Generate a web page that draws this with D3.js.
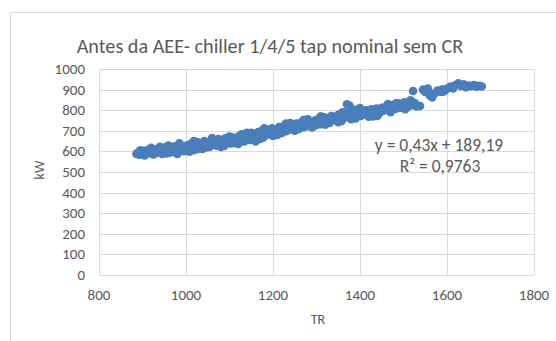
<!DOCTYPE html>
<html>
<head>
<meta charset="utf-8">
<script src="https://cdn.jsdelivr.net/npm/d3@7"></script>
<style>
  body { margin: 0; background: #fff; }
  text { font-family: Carlito, Calibri, "Open Sans", sans-serif; }
</style>
</head>
<body>
<div id="chart"></div>
<script>
// scatter points, in chunks along TR
const trA = [886, 890, 893, 897, 900, 904, 907, 911, 914, 918, 921, 925, 928, 932, 935, 939, 942, 946, 949, 953, 956, 960, 963, 967, 970, 974, 977, 981, 984, 988, 991, 995, 998,
    895, 905, 915, 925, 935, 945, 955, 965, 975, 985, 995, 920, 940, 960, 980];
const kwA = [588, 594, 584, 598, 590, 603, 586, 596, 608, 591, 600, 612, 589, 603, 595, 616, 598, 592, 606, 621, 600, 612, 594, 618, 605, 625, 599, 614, 630, 608, 620, 601, 626,
    605, 580, 602, 585, 608, 587, 590, 609, 596, 639, 612, 618, 622, 628, 588];

const trB = [1002, 1006, 1010, 1014, 1018, 1022, 1026, 1030, 1034, 1038, 1042, 1046, 1050, 1054, 1058, 1062, 1066, 1070, 1074, 1078, 1082, 1086, 1090, 1094, 1098, 1102, 1106, 1110, 1114, 1118, 1122, 1126, 1130, 1134, 1138, 1142, 1146, 1150,
    1008, 1028, 1048, 1068, 1088, 1108, 1128, 1148, 1018, 1040, 1060, 1080, 1100, 1120, 1140];
const kwB = [610, 632, 618, 640, 606, 627, 645, 620, 636, 612, 650, 630, 641, 622, 655, 634, 646, 628, 660, 640, 652, 633, 664, 645, 656, 638, 669, 650, 661, 642, 675, 654, 666, 648, 680, 660, 671, 690,
    598, 612, 620, 650, 627, 640, 683, 655, 650, 615, 665, 622, 672, 636, 690];

const trC = [1154, 1158, 1162, 1166, 1170, 1174, 1178, 1182, 1186, 1190, 1194, 1198, 1202, 1206, 1210, 1214, 1218, 1222, 1226, 1230, 1234, 1238, 1242, 1246, 1250, 1254, 1258, 1262, 1266, 1270, 1274, 1278, 1282, 1286, 1290, 1294, 1298,
    1160, 1180, 1200, 1220, 1240, 1260, 1280, 1300, 1170, 1190, 1210, 1230, 1250, 1270, 1290];
const kwC = [664, 685, 672, 694, 678, 700, 668, 690, 705, 682, 698, 712, 688, 706, 694, 718, 700, 712, 725, 698, 716, 705, 728, 712, 720, 735, 708, 726, 742, 718, 734, 722, 746, 730, 740, 724, 752,
    648, 712, 675, 690, 738, 712, 756, 728, 660, 700, 680, 735, 700, 752, 716];

const trD = [1302, 1306, 1310, 1314, 1318, 1322, 1326, 1330, 1334, 1338, 1342, 1346, 1350, 1354, 1358, 1362, 1366, 1370, 1374, 1378, 1382, 1386, 1390, 1394, 1398, 1402, 1406, 1410, 1414, 1418, 1422, 1426, 1430, 1434, 1438, 1442, 1446, 1450,
    1370, 1376, 1310, 1330, 1350, 1380, 1400, 1420, 1440, 1320, 1360, 1390, 1430];
const kwD = [740, 758, 732, 750, 765, 745, 760, 738, 772, 755, 768, 750, 778, 762, 748, 775, 788, 766, 780, 770, 792, 777, 760, 785, 798, 772, 790, 782, 800, 786, 776, 804, 792, 784, 808, 795, 788, 812,
    829, 822, 770, 752, 742, 756, 810, 768, 772, 730, 790, 802, 770];

const trE = [1454, 1458, 1462, 1466, 1470, 1474, 1478, 1482, 1486, 1490, 1494, 1498, 1502, 1506, 1510, 1514, 1518, 1522, 1526, 1530, 1522, 1538, 1464, 1484, 1504, 1516];
const kwE = [798, 815, 805, 822, 790, 812, 828, 806, 818, 832, 812, 825, 838, 815, 830, 820, 842, 828, 835, 818, 893, 820, 830, 835, 805, 848];

const trF = [1545, 1550, 1556, 1560, 1566, 1572, 1578, 1584, 1590, 1596, 1602, 1608, 1614, 1620, 1626, 1632, 1638, 1644, 1650, 1656, 1662, 1668, 1674, 1680, 1565, 1590, 1615];
const kwF = [900, 888, 905, 872, 862, 882, 895, 890, 902, 896, 908, 915, 905, 922, 930, 918, 926, 912, 920, 916, 922, 914, 918, 915, 878, 888, 915];

const xTicks = [800, 1000, 1200, 1400, 1600, 1800];
const yTicks = [0, 100, 200, 300, 400, 500, 600, 700, 800, 900, 1000];

const titleText = "Antes da AEE- chiller 1/4/5 tap nominal sem CR";
const eqText = "y = 0,43x + 189,19";
const r2Text = "R² = 0,9763";

function buildPoints() {
    const pts = [];
    [[trA, kwA], [trB, kwB], [trC, kwC], [trD, kwD], [trE, kwE], [trF, kwF]].forEach(([xs, ys]) => {
        xs.forEach((x, i) => pts.push({tr: x, kw: ys[i]}));
    });
    return pts;
}

function drawChart() {
    const width = 556, height = 341;
    const svg = d3.select("#chart")
        .append("svg")
        .attr("width", width)
        .attr("height", height);

    // chart frame
    svg.append("rect")
        .attr("x", 10.5).attr("y", 12.5)
        .attr("width", 560).attr("height", 340)
        .attr("fill", "none")
        .attr("stroke", "#D9D9D9");

    const x = d3.scaleLinear().domain([800, 1800]).range([99, 534]);
    const y = d3.scaleLinear().domain([0, 1000]).range([275, 69]);

    // gridlines
    svg.append("g")
        .selectAll("line.h")
        .data(yTicks)
        .join("line")
        .attr("x1", x(800)).attr("x2", x(1800))
        .attr("y1", d => Math.round(y(d)) + 0.5)
        .attr("y2", d => Math.round(y(d)) + 0.5)
        .attr("stroke", "#D9D9D9");
    svg.append("g")
        .selectAll("line.v")
        .data(xTicks)
        .join("line")
        .attr("x1", d => Math.round(x(d)) + 0.5)
        .attr("x2", d => Math.round(x(d)) + 0.5)
        .attr("y1", y(0)).attr("y2", y(1000))
        .attr("stroke", "#D9D9D9");

    // tick labels
    svg.append("g")
        .selectAll("text")
        .data(yTicks)
        .join("text")
        .attr("x", 85)
        .attr("y", d => y(d) + 5)
        .attr("text-anchor", "end")
        .attr("font-size", 15)
        .attr("fill", "#595959")
        .text(d => d);
    svg.append("g")
        .selectAll("text")
        .data(xTicks)
        .join("text")
        .attr("x", d => x(d))
        .attr("y", 300)
        .attr("text-anchor", "middle")
        .attr("font-size", 15)
        .attr("fill", "#595959")
        .text(d => d);

    // axis titles
    svg.append("text")
        .attr("transform", "translate(44,170) rotate(-90)")
        .attr("text-anchor", "middle")
        .attr("font-size", 14)
        .attr("fill", "#595959")
        .text("kW");
    svg.append("text")
        .attr("x", 318).attr("y", 324)
        .attr("text-anchor", "middle")
        .attr("font-size", 14)
        .attr("fill", "#595959")
        .text("TR");

    // title
    svg.append("text")
        .attr("x", 270).attr("y", 53)
        .attr("text-anchor", "middle")
        .attr("font-size", 20.2)
        .attr("fill", "#595959")
        .text(titleText);

    // points
    svg.append("g")
        .selectAll("circle")
        .data(buildPoints())
        .join("circle")
        .attr("cx", d => x(d.tr))
        .attr("cy", d => y(d.kw))
        .attr("r", 4.3)
        .attr("fill", "#4A7EBB");

    // trendline label
    svg.append("text")
        .attr("x", 439).attr("y", 151)
        .attr("text-anchor", "middle")
        .attr("font-size", 17.5)
        .attr("fill", "#595959")
        .text(eqText);
    svg.append("text")
        .attr("x", 440).attr("y", 172)
        .attr("text-anchor", "middle")
        .attr("font-size", 17.5)
        .attr("fill", "#595959")
        .text(r2Text);
}

drawChart();
</script>
</body>
</html>
